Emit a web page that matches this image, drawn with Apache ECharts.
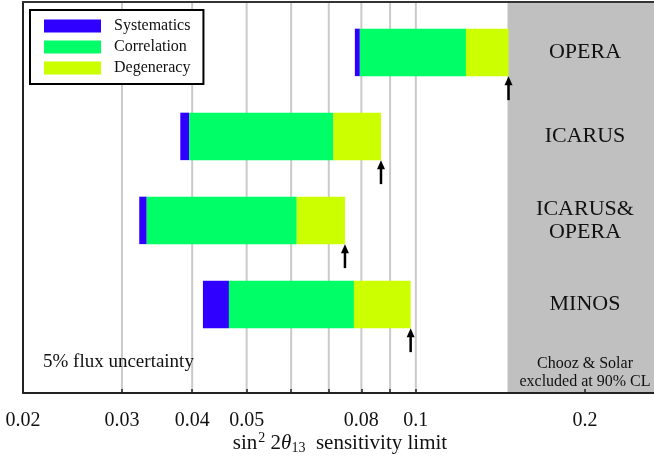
<!DOCTYPE html>
<html>
<head>
<meta charset="utf-8">
<script src="https://cdn.jsdelivr.net/npm/echarts@6/dist/echarts.min.js"></script>
<style>html,body{margin:0;padding:0;background:#fff;}#c{width:654px;height:459px;}</style>
</head>
<body>
<div id="c"></div>
<script>
// ---- data ----
const experiments = ['OPERA', 'ICARUS', 'ICARUS&\nOPERA', 'MINOS'];
const barStart       = [0.0779, 0.0381, 0.0322, 0.0418];
const systematicsEnd = [0.0795, 0.0395, 0.0332, 0.0465];
const correlationEnd = [0.1228, 0.0713, 0.0614, 0.0776];
const degeneracyEnd  = [0.1462, 0.0867, 0.0748, 0.0979];
const labelTicks = [0.02, 0.03, 0.04, 0.05, 0.08, 0.1, 0.2];
const minorTicks = [0.03, 0.04, 0.05, 0.06, 0.07, 0.08, 0.09, 0.1, 0.2];
const gridValues = [0.03, 0.04, 0.05, 0.06, 0.07, 0.08, 0.09, 0.1];
const excludedFrom = 0.1456;
const nameLabelAt = 0.2;
const axisMinVal = 0.02;

// ---- layout ----
const L = Math.log10;
const xMin = L(axisMinVal);
const xMax = xMin + 634 / 562;
const yMax = 391 / 84;
const yPos = i => i + 0.6;
const barFrac = 0.565;
const serif = '"Liberation Serif", "DejaVu Serif", serif';

function barRender(params, api) {
  const y = api.value(2);
  const p0 = api.coord([api.value(0), y]);
  const p1 = api.coord([api.value(1), y]);
  const h = api.size([0, 1])[1] * barFrac;
  return { type: 'rect', shape: { x: p0[0], y: p0[1] - h / 2, width: p1[0] - p0[0], height: h },
    style: { fill: api.visual('color') } };
}
function seg(a, b) { return experiments.map((_, i) => [L(a[i]), L(b[i]), yPos(i)]); }

const chart = echarts.init(document.getElementById('c'), null, { renderer: 'canvas' });
chart.setOption({
  animation: false,
  grid: { left: 23, right: -3, top: 2, bottom: 66, containLabel: false, outerBoundsMode: 'none' },
  legend: {
    data: [{ name: 'Systematics', icon: 'rect' }, { name: 'Correlation', icon: 'rect' }, { name: 'Degeneracy', icon: 'rect' }],
    orient: 'vertical', left: 30, top: 10, itemWidth: 57, itemHeight: 13, itemGap: 5,
    padding: [8, 13, 8, 14], borderColor: '#000', borderWidth: 2, backgroundColor: '#fff',
    selectedMode: false,
    textStyle: { fontFamily: serif, fontSize: 16, color: '#111', lineHeight: 16, padding: [0, 0, 0, 8] }
  },
  xAxis: [{
    type: 'value', min: xMin, max: xMax, z: 10,
    axisLine: { show: true, onZero: false, lineStyle: { color: '#222', width: 2 } },
    axisTick: { show: true, inside: true, length: 4, customValues: minorTicks.map(L), lineStyle: { color: '#222', width: 1.5 } },
    axisLabel: { customValues: labelTicks.map(L), margin: 18, fontFamily: serif, fontSize: 20, color: '#111',
      formatter: v => String(+Math.pow(10, v).toPrecision(2)) },
    splitLine: { show: false },
    name: '{a|sin}{sup|2}{a| 2}{th|θ}{sub|13}{a|  sensitivity limit}',
    nameLocation: 'middle', nameGap: 38, nameMoveOverlap: false,
    nameTextStyle: { fontFamily: serif, fontSize: 21, color: '#111',
      rich: {
        a: { fontFamily: serif, fontSize: 21, color: '#111', lineHeight: 24 },
        sup: { fontFamily: serif, fontSize: 14, color: '#111', lineHeight: 24, verticalAlign: 'top', padding: [0, 0, 6, 1] },
        th: { fontFamily: serif, fontSize: 21, fontStyle: 'italic', color: '#111', lineHeight: 24 },
        sub: { fontFamily: serif, fontSize: 14, color: '#111', lineHeight: 24, verticalAlign: 'bottom', padding: [5, 0, 0, 0] }
      } }
  }, {
    type: 'value', position: 'top', min: xMin, max: xMax, z: 10,
    axisLine: { show: true, onZero: false, lineStyle: { color: '#333', width: 2 } },
    axisTick: { show: false }, axisLabel: { show: false }, splitLine: { show: false }
  }],
  yAxis: {
    type: 'value', inverse: true, min: 0, max: yMax, z: 10,
    axisLine: { show: true, onZero: false, lineStyle: { color: '#222', width: 2 } },
    axisTick: { show: false }, axisLabel: { show: false }, splitLine: { show: false }
  },
  graphic: [
    { type: 'text', left: 43, top: 353, z: 20, style: { text: '5% flux uncertainty', font: '19px ' + serif, fill: '#111' } },
  ],
  series: [
    { type: 'custom', name: 'excluded', z: 0, silent: true,
      data: [[L(excludedFrom), xMax]], encode: { x: [0, 1] },
      renderItem: (params, api) => {
        const cs = params.coordSys;
        const x0 = api.coord([api.value(0), 0])[0];
        const x1 = api.coord([api.value(1), 0])[0];
        return { type: 'rect', shape: { x: x0, y: cs.y, width: x1 - x0 + 4, height: cs.height }, style: { fill: '#c0c0c0' } };
      } },
    { type: 'custom', name: 'gridlines', z: 1, silent: true,
      data: gridValues.map(v => [L(v)]), encode: { x: 0 },
      renderItem: (params, api) => {
        const cs = params.coordSys;
        const x = api.coord([api.value(0), 0])[0];
        return { type: 'line', shape: { x1: x, y1: cs.y, x2: x, y2: cs.y + cs.height }, style: { stroke: '#cacaca', lineWidth: 2 } };
      } },
    { type: 'custom', name: 'Systematics', z: 3, itemStyle: { color: '#2f00ff' },
      data: seg(barStart, systematicsEnd), encode: { x: [0, 1], y: 2 }, renderItem: barRender },
    { type: 'custom', name: 'Correlation', z: 3, itemStyle: { color: '#00ff66' },
      data: seg(systematicsEnd, correlationEnd), encode: { x: [0, 1], y: 2 }, renderItem: barRender },
    { type: 'custom', name: 'Degeneracy', z: 3, itemStyle: { color: '#ccff00' },
      data: seg(correlationEnd, degeneracyEnd), encode: { x: [0, 1], y: 2 }, renderItem: barRender },
    { type: 'custom', name: 'arrows', z: 4, silent: true,
      data: experiments.map((_, i) => [L(degeneracyEnd[i]), yPos(i)]), encode: { x: 0, y: 1 },
      renderItem: (params, api) => {
        const p = api.coord([api.value(0), api.value(1)]);
        const h = api.size([0, 1])[1] * barFrac;
        const yb = p[1] + h / 2;
        return { type: 'group', children: [
          { type: 'line', shape: { x1: p[0], y1: yb + 6, x2: p[0], y2: yb + 24 }, style: { stroke: '#000', lineWidth: 2.5 } },
          { type: 'polygon', shape: { points: [[p[0], yb], [p[0] - 4, yb + 9], [p[0] + 4, yb + 9]] }, style: { fill: '#000' } }
        ] };
      } },
    { type: 'custom', name: 'names', z: 5, silent: true,
      data: experiments.map((n, i) => [L(nameLabelAt), yPos(i), n]), encode: { x: 0, y: 1 },
      renderItem: (params, api) => {
        const p = api.coord([api.value(0), api.value(1)]);
        return { type: 'text', x: p[0], y: p[1], style: { text: experiments[params.dataIndex], font: '22px ' + serif,
          fill: '#111', align: 'center', verticalAlign: 'middle', lineHeight: 23 } };
      } },
    { type: 'custom', name: 'note', z: 5, silent: true,
      data: [[L(nameLabelAt)]], encode: { x: 0 },
      renderItem: (params, api) => {
        const x = api.coord([api.value(0), 0])[0];
        return { type: 'text', x: x, y: 373, style: { text: 'Chooz & Solar\nexcluded at 90% CL', font: '16px ' + serif,
          fill: '#111', align: 'center', verticalAlign: 'middle', lineHeight: 18 } };
      } }
  ]
});
</script>
</body>
</html>
